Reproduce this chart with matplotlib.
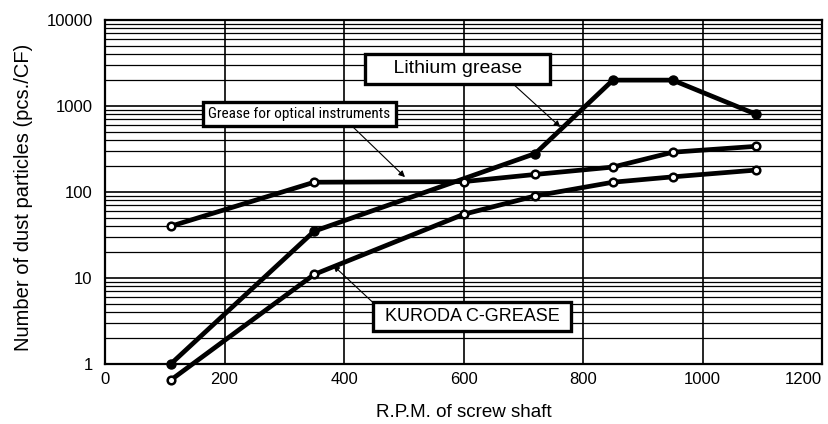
import matplotlib
matplotlib.use("Agg")
import matplotlib.pyplot as plt
from matplotlib.ticker import LogLocator, FixedLocator, NullFormatter

plt.rcParams['font.family'] = ['Liberation Sans', 'DejaVu Sans']

# data (rpm vs. dust particles pcs./CF)
rpm_lithium = [110, 350, 720, 850, 950, 1090]
dust_lithium = [1.0, 35, 280, 2000, 2000, 800]

rpm_optical = [110, 350, 600, 720, 850, 950, 1090]
dust_optical = [40, 130, 132, 160, 195, 290, 340]

rpm_kuroda = [110, 350, 600, 720, 850, 950, 1090]
dust_kuroda = [0.65, 11, 55, 90, 130, 150, 180]

x_ticks = [0, 200, 400, 600, 800, 1000, 1200]
y_ticks = [1, 10, 100, 1000, 10000]
y_labels = ['1', '10', '100', '1000', '10000']

fig = plt.figure(figsize=(8.29, 4.24), dpi=100)
ax = fig.add_axes([0.1267, 0.1415, 0.8649, 0.8113])

ax.set_yscale('log')
ax.set_xlim(0, 1200)
ax.set_ylim(1, 10000)

ax.xaxis.set_major_locator(FixedLocator(x_ticks))
ax.yaxis.set_major_locator(FixedLocator(y_ticks))
ax.set_yticklabels(y_labels)
ax.yaxis.set_minor_locator(LogLocator(base=10, subs=range(2, 10)))
ax.yaxis.set_minor_formatter(NullFormatter())

ax.grid(True, which='major', axis='both', color='black', lw=1.2)
ax.grid(True, which='minor', axis='y', color='black', lw=0.9)
ax.tick_params(which='both', length=0)
ax.tick_params(axis='y', pad=9, labelsize=12)
ax.tick_params(axis='x', pad=6, labelsize=12)
for s in ax.spines.values():
    s.set_linewidth(1.6)

# last x label sits inside the figure edge, as in the original
ax.get_xticklabels()[-1].set_horizontalalignment('right')

ax.plot(rpm_lithium, dust_lithium, color='black', lw=3.4, marker='o',
        markersize=6.5, markerfacecolor='black', clip_on=False, zorder=3)
ax.plot(rpm_optical, dust_optical, color='black', lw=3.4, marker='o',
        markersize=5.5, markerfacecolor='white', markeredgewidth=1.8,
        clip_on=False, zorder=3)
ax.plot(rpm_kuroda, dust_kuroda, color='black', lw=3.4, marker='o',
        markersize=5.5, markerfacecolor='white', markeredgewidth=1.8,
        clip_on=False, zorder=4)

box = dict(boxstyle='square,pad=0.35', fc='white', ec='black', lw=2.4)
arrow = dict(arrowstyle='-|>', color='black', lw=0.8, mutation_scale=9,
             shrinkA=0, shrinkB=0)

ax.annotate('    Lithium grease    ', xy=(762, 570), xycoords='data',
            xytext=(0.492, 0.858), textcoords='axes fraction',
            ha='center', va='center', fontsize=14, bbox=box,
            arrowprops=dict(arrow, relpos=(0.78, 0.0)), zorder=6)

ax.annotate('Grease for optical instruments', xy=(502, 149), xycoords='data',
            xytext=(0.271, 0.727), textcoords='axes fraction',
            ha='center', va='center', fontsize=11,
            family=['Roboto Condensed', 'Noto Sans'], fontstretch='condensed',
            bbox=dict(box, boxstyle='square,pad=0.35'),
            arrowprops=dict(arrow, relpos=(0.76, 0.0)), zorder=6)

ax.annotate(' KURODA C-GREASE ', xy=(382, 14), xycoords='data',
            xytext=(0.512, 0.138), textcoords='axes fraction',
            ha='center', va='center', fontsize=13, bbox=box,
            arrowprops=dict(arrow, relpos=(0.0, 0.95)), zorder=6)

ax.set_xlabel('R.P.M. of screw shaft', fontsize=13.5, labelpad=12)
ax.set_ylabel('Number of dust particles (pcs./CF)', fontsize=14.5)
ax.yaxis.set_label_coords(-0.100, 0.483)

fig.savefig('out.png', dpi=100)
